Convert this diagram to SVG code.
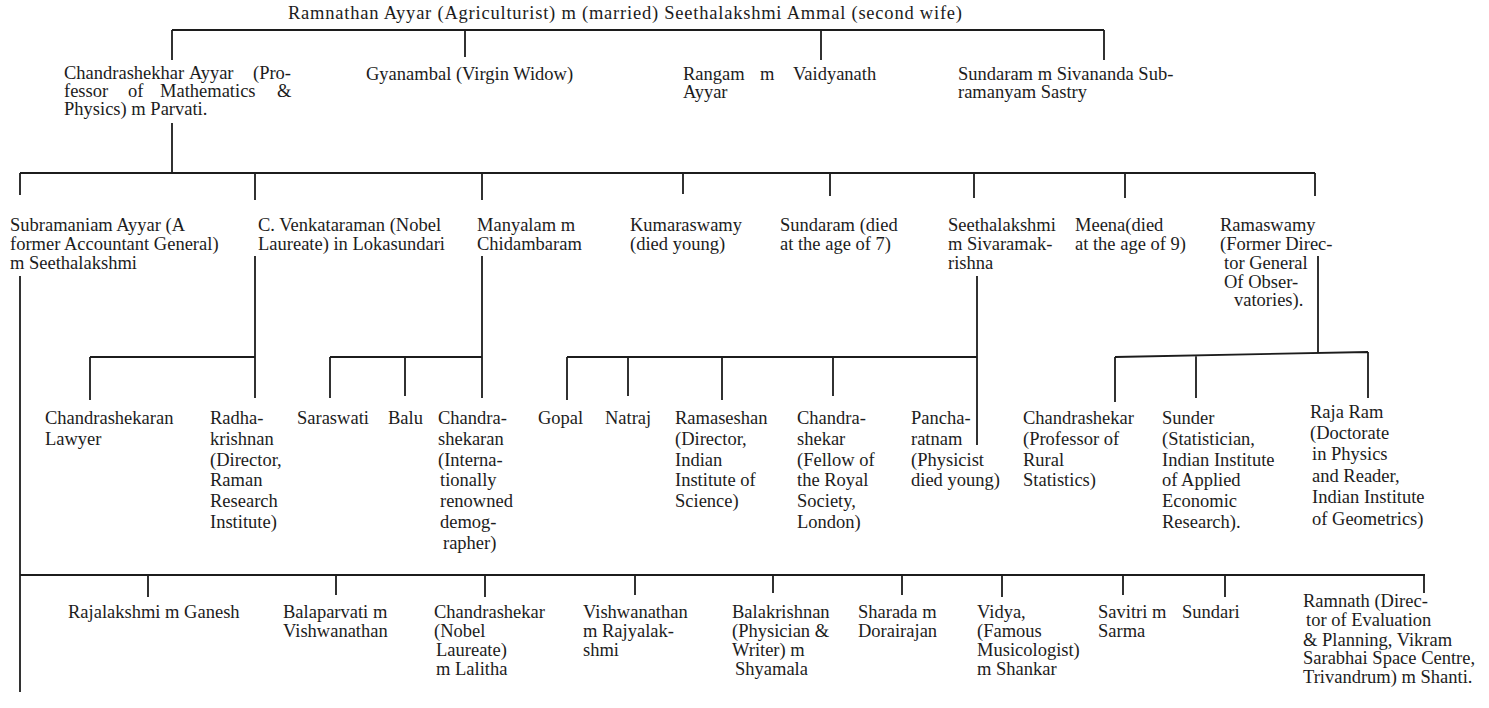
<svg xmlns="http://www.w3.org/2000/svg" width="1489" height="708" viewBox="0 0 1489 708">
<style>
.t{font-family:"Liberation Serif","Times New Roman",serif;font-size:18.5px;fill:#1c1c1c}
.c{stroke:#1c1c1c;stroke-width:1.8;fill:none}
</style>
<rect width="1489" height="708" fill="#ffffff"/>
<g id="connectors" class="c">
<path d="M172,30 H1104 M172,30 V60 M465,30 V57 M821,30 V60 M1104,30 V60"/>
<path d="M172,123 V173 M20,173 H1315 M20,173 V195 M255,173 V200 M482,173 V200 M683,173 V194 M830,173 V196 M974,173 V198 M1125,173 V198 M1315,173 V196"/>
<path d="M20,276 V692"/>
<path d="M255,256 V398 M90,357 H255 M90,357 V400"/>
<path d="M482,256 V398 M330,357 H482 M330,357 V398 M405,357 V396"/>
<path d="M977,276 V445 M567,357 H977 M567,357 V400 M628,357 V396 M722,357 V400 M833,357 V396"/>
<path d="M1318,256 V354 M1115,357 L1368,352 M1115,357 V402 M1196,356 V398 M1368,352 V398"/>
<path d="M20,575 H1425 M148,575 V597 M336,575 V595 M485,575 V597 M635,575 V595 M773,575 V593 M902,575 V595 M1002,575 V597 M1123,575 V595 M1225,575 V597 M1424,575 V593"/>
</g>
<g id="n-root"><text class="t" x="288" y="19" textLength="674" lengthAdjust="spacing">Ramnathan Ayyar (Agriculturist) m (married) Seethalakshmi Ammal (second wife)</text></g>
<g id="n-chandrashekhar" class="t"><text x="64" y="79">Chandrashekhar</text><text x="189" y="79">Ayyar</text><text x="253" y="79">(Pro-</text><text x="64" y="97">fessor</text><text x="128" y="97">of</text><text x="160" y="97">Mathematics</text><text x="277" y="97">&amp;</text><text x="64" y="115">Physics) m Parvati.</text></g>
<g id="n-gyanambal" class="t"><text x="366" y="80">Gyanambal (Virgin Widow)</text></g>
<g id="n-rangam" class="t"><text x="683" y="80">Rangam</text><text x="760" y="80">m</text><text x="793" y="80">Vaidyanath</text><text x="683" y="98">Ayyar</text></g>
<g id="n-sundaram1" class="t"><text x="958" y="80">Sundaram m Sivananda Sub-</text><text x="958" y="98">ramanyam Sastry</text></g>
<g id="n-subramaniam" class="t"><text x="10" y="231">Subramaniam Ayyar (A</text><text x="10" y="250">former Accountant General)</text><text x="10" y="269">m Seethalakshmi</text></g>
<g id="n-venkataraman" class="t"><text x="258" y="231">C. Venkataraman (Nobel</text><text x="258" y="250">Laureate) in Lokasundari</text></g>
<g id="n-manyalam" class="t"><text x="477" y="231">Manyalam m</text><text x="477" y="250">Chidambaram</text></g>
<g id="n-kumaraswamy" class="t"><text x="630" y="231">Kumaraswamy</text><text x="630" y="250">(died young)</text></g>
<g id="n-sundaram2" class="t"><text x="780" y="231">Sundaram (died</text><text x="780" y="250">at the age of 7)</text></g>
<g id="n-seethalakshmi" class="t"><text x="948" y="231">Seethalakshmi</text><text x="948" y="250">m Sivaramak-</text><text x="948" y="269">rishna</text></g>
<g id="n-meena" class="t"><text x="1075" y="231">Meena(died</text><text x="1075" y="250">at the age of 9)</text></g>
<g id="n-ramaswamy" class="t"><text x="1220" y="231">Ramaswamy</text><text x="1220" y="250">(Former Direc-</text><text x="1224" y="269">tor General</text><text x="1224" y="288">Of Obser-</text><text x="1234" y="306">vatories).</text></g>
<g id="n-chandrashekaran-lawyer" class="t"><text x="45" y="424">Chandrashekaran</text><text x="45" y="445">Lawyer</text></g>
<g id="n-radhakrishnan" class="t"><text x="210" y="424">Radha-</text><text x="210" y="445">krishnan</text><text x="210" y="466">(Director,</text><text x="210" y="486">Raman</text><text x="210" y="507">Research</text><text x="210" y="528">Institute)</text></g>
<g id="n-saraswati" class="t"><text x="297" y="424">Saraswati</text></g>
<g id="n-balu" class="t"><text x="388" y="424">Balu</text></g>
<g id="n-chandrashekaran-demographer" class="t"><text x="438" y="424">Chandra-</text><text x="438" y="445">shekaran</text><text x="438" y="466">(Interna-</text><text x="440" y="486">tionally</text><text x="440" y="507">renowned</text><text x="440" y="528">demog-</text><text x="443" y="549">rapher)</text></g>
<g id="n-gopal" class="t"><text x="538" y="424">Gopal</text></g>
<g id="n-natraj" class="t"><text x="605" y="424">Natraj</text></g>
<g id="n-ramaseshan" class="t"><text x="675" y="424">Ramaseshan</text><text x="675" y="445">(Director,</text><text x="675" y="466">Indian</text><text x="675" y="486">Institute of</text><text x="675" y="507">Science)</text></g>
<g id="n-chandrashekar-frs" class="t"><text x="797" y="424">Chandra-</text><text x="797" y="445">shekar</text><text x="797" y="466">(Fellow of</text><text x="797" y="486">the Royal</text><text x="797" y="507">Society,</text><text x="797" y="528">London)</text></g>
<g id="n-pancharatnam" class="t"><text x="911" y="424">Pancha-</text><text x="911" y="445">ratnam</text><text x="911" y="466">(Physicist</text><text x="911" y="486">died young)</text></g>
<g id="n-chandrashekar-prof" class="t"><text x="1023" y="424">Chandrashekar</text><text x="1023" y="445">(Professor of</text><text x="1023" y="466">Rural</text><text x="1023" y="486">Statistics)</text></g>
<g id="n-sunder" class="t"><text x="1162" y="424">Sunder</text><text x="1162" y="445">(Statistician,</text><text x="1162" y="466">Indian Institute</text><text x="1162" y="486">of Applied</text><text x="1162" y="507">Economic</text><text x="1162" y="528">Research).</text></g>
<g id="n-rajaram" class="t"><text x="1310" y="418">Raja Ram</text><text x="1310" y="439">(Doctorate</text><text x="1312" y="460">in Physics</text><text x="1312" y="482">and Reader,</text><text x="1312" y="503">Indian Institute</text><text x="1312" y="525">of Geometrics)</text></g>
<g id="n-rajalakshmi" class="t"><text x="68" y="618">Rajalakshmi m Ganesh</text></g>
<g id="n-balaparvati" class="t"><text x="283" y="618">Balaparvati m</text><text x="283" y="637">Vishwanathan</text></g>
<g id="n-chandrashekar-nobel" class="t"><text x="434" y="618">Chandrashekar</text><text x="434" y="637">(Nobel</text><text x="436" y="656">Laureate)</text><text x="436" y="675">m Lalitha</text></g>
<g id="n-vishwanathan" class="t"><text x="583" y="618">Vishwanathan</text><text x="583" y="637">m  Rajyalak-</text><text x="583" y="656">shmi</text></g>
<g id="n-balakrishnan" class="t"><text x="732" y="618">Balakrishnan</text><text x="732" y="637">(Physician  &amp;</text><text x="732" y="656">Writer) m</text><text x="735" y="675">Shyamala</text></g>
<g id="n-sharada" class="t"><text x="858" y="618">Sharada m</text><text x="858" y="637">Dorairajan</text></g>
<g id="n-vidya" class="t"><text x="977" y="618">Vidya,</text><text x="977" y="637">(Famous</text><text x="977" y="656">Musicologist)</text><text x="977" y="675">m Shankar</text></g>
<g id="n-savitri" class="t"><text x="1098" y="618">Savitri m</text><text x="1098" y="637">Sarma</text></g>
<g id="n-sundari" class="t"><text x="1182" y="618">Sundari</text></g>
<g id="n-ramnath" class="t"><text x="1303" y="607">Ramnath (Direc-</text><text x="1306" y="626">tor of Evaluation</text><text x="1303" y="646">&amp; Planning, Vikram</text><text x="1303" y="664">Sarabhai Space Centre,</text><text x="1303" y="683">Trivandrum) m Shanti.</text></g>
</svg>
